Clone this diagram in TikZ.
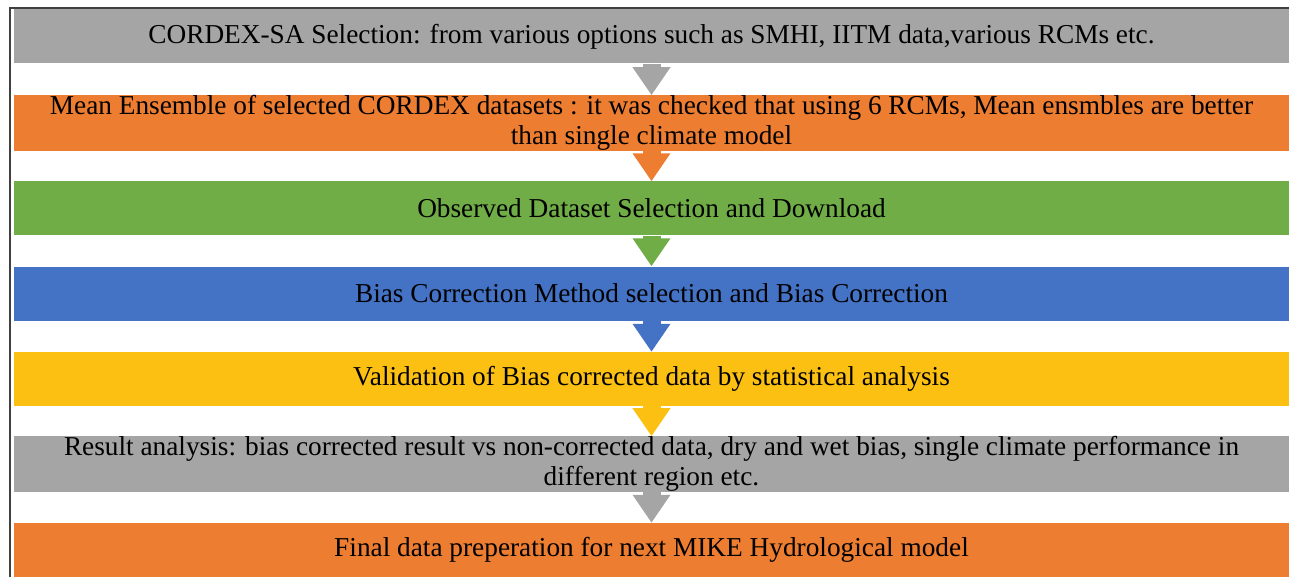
\documentclass[tikz,border=0pt]{standalone}
\usepackage{fontspec}
\setmainfont{Liberation Serif}
\usepackage{tikz}
\usetikzlibrary{arrows.meta}

\definecolor{barGray}{HTML}{A5A5A5}
\definecolor{barOrange}{HTML}{ED7D31}
\definecolor{barGreen}{HTML}{70AD47}
\definecolor{barBlue}{HTML}{4472C4}
\definecolor{barYellow}{HTML}{FBC012}

\begin{document}
\begin{tikzpicture}[
  x=1pt, y=-1pt,
  bar/.style={fill=#1, draw=none, align=center, inner sep=0pt,
              minimum width=1276pt, minimum height=54pt,
              font=\fontsize{27.3}{30}\selectfont},
  flow/.style={draw=#1, line width=18pt,
               -{Triangle[width=36pt,length=28pt]}}
]
\useasboundingbox (0,0) rectangle (1289,577);
\draw[line width=2pt, black!75] (1289,8) -- (10,8) -- (10,577);

\node[bar=barGray]   (sel) at (651.5,36.5) {CORDEX-SA Selection: from various options such as SMHI, IITM data,various RCMs etc.};
\node[bar=barOrange] (ens) at (651.5,123)  {Mean Ensemble of selected CORDEX datasets : it was checked that using 6 RCMs, Mean ensmbles are better\\than single climate model};
\node[bar=barGreen]  (obs) at (651.5,208.5) {Observed Dataset Selection and Download};
\node[bar=barBlue]   (bias) at (651.5,293.5) {Bias Correction Method selection and Bias Correction};
\node[bar=barYellow] (val) at (651.5,379)  {Validation of Bias corrected data by statistical analysis};
\node[bar=barGray]   (res) at (651.5,464)  {Result analysis: bias corrected result vs non-corrected data, dry and wet bias, single climate performance in\\different region etc.};
\node[bar=barOrange] (fin) at (651.5,550)  {Final data preperation for next MIKE Hydrological model};

\draw[flow=barGray]   (sel) -- (ens);
\draw[flow=barOrange] (ens) -- (obs);
\draw[flow=barGreen]  (obs) -- (bias);
\draw[flow=barBlue]   (bias) -- (val);
\draw[flow=barYellow] (val) -- (res);
\draw[flow=barGray]   (res) -- (fin);
\end{tikzpicture}
\end{document}
